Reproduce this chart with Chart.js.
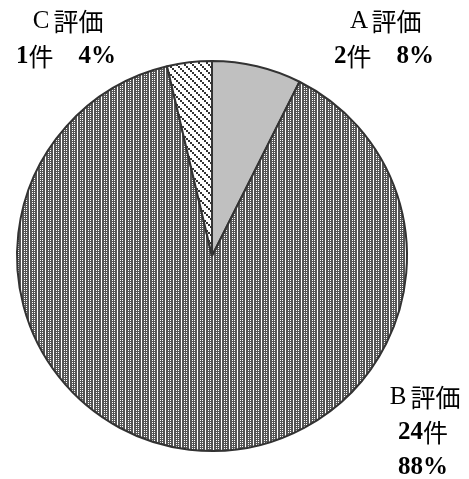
<!DOCTYPE html>
<html>
<head>
<meta charset="utf-8">
<script src="https://cdn.jsdelivr.net/npm/chart.js@4/dist/chart.umd.min.js"></script>
<style>
  body { margin: 0; background: #fff; }
  #wrap { width: 469px; height: 479px; }
</style>
</head>
<body>
<div id="wrap"><canvas id="pie" width="469" height="479"></canvas></div>
<script>
// data
const categories = ['Ａ評価', 'Ｂ評価', 'Ｃ評価'];
const counts = [2, 24, 1];
const percents = ['8%', '88%', '4%'];

// fill patterns for each slice
const makePattern = (size, draw) => {
  const c = document.createElement('canvas');
  c.width = size; c.height = size;
  const g = c.getContext('2d');
  draw(g);
  return g.createPattern(c, 'repeat');
};

const ctx = document.getElementById('pie').getContext('2d');

const checker = makePattern(8, g => {
  g.fillStyle = '#555';
  g.fillRect(0, 0, 8, 8);
  g.fillStyle = '#fff';
  for (let y = 0; y < 8; y += 2) {
    [0, 2, 5].forEach(x => g.fillRect(x, y, 1, 1));
    g.fillRect(5, y + 1, 1, 1);
  }
});

const hatch = makePattern(8, g => {
  g.fillStyle = '#fff';
  g.fillRect(0, 0, 8, 8);
  g.fillStyle = '#333';
  for (let i = 0; i < 4; i++) g.fillRect(i * 2, i * 2, 2, 2);
});

const colors = ['#c0c0c0', checker, hatch];

// label lines and anchor (center x, first line y)
const labelLines = [
  [categories[0], counts[0] + '件　' + percents[0]],
  [categories[1], counts[1] + '件', percents[1]],
  [categories[2], counts[2] + '件　' + percents[2]]
];
const labelPos = [[384, 21], [423, 397], [66, 21]];

const FS = 25;
const isAscii = ch => /[\x20-\x7e]/.test(ch);
const isWideLatin = ch => /[\uff21-\uff3a]/.test(ch);

// latin in serif (full-width letters centred in a full cell), kanji regular
const drawMixed = (c, text, cx, y) => {
  const runs = [...text].map(ch => {
    if (isWideLatin(ch)) {
      const a = String.fromCharCode(ch.charCodeAt(0) - 0xfee0);
      c.font = `${FS}px "Liberation Serif", serif`;
      return { t: a, font: c.font, w: FS, inner: c.measureText(a).width };
    }
    c.font = isAscii(ch) ? `bold ${FS}px "Liberation Serif", serif` : `${FS}px "Noto Sans CJK JP", sans-serif`;
    const w = c.measureText(ch).width;
    return { t: ch, font: c.font, w, inner: w };
  });
  let x = cx - runs.reduce((a, r) => a + r.w, 0) / 2;
  runs.forEach(r => {
    c.font = r.font;
    c.fillText(r.t, x + (r.w - r.inner) / 2, y);
    x += r.w;
  });
};

const labelsPlugin = {
  id: 'sliceLabels',
  afterDraw(chart) {
    const c = chart.ctx;
    c.save();
    c.fillStyle = '#000';
    c.textAlign = 'left';
    c.textBaseline = 'middle';
    labelLines.forEach((lines, i) => {
      const [x, y] = labelPos[i];
      lines.forEach((t, j) => drawMixed(c, t, x, y + j * 35.5));
    });
    c.restore();
  }
};

new Chart(ctx, {
  type: 'pie',
  data: {
    labels: categories,
    datasets: [{
      data: counts,
      backgroundColor: colors,
      borderColor: '#333',
      borderWidth: 2
    }]
  },
  options: {
    responsive: false,
    animation: false,
    layout: { padding: { left: 16, right: 61, top: 60, bottom: 27 } },
    plugins: {
      legend: { display: false },
      tooltip: { enabled: false }
    }
  },
  plugins: [labelsPlugin]
});
</script>
</body>
</html>
